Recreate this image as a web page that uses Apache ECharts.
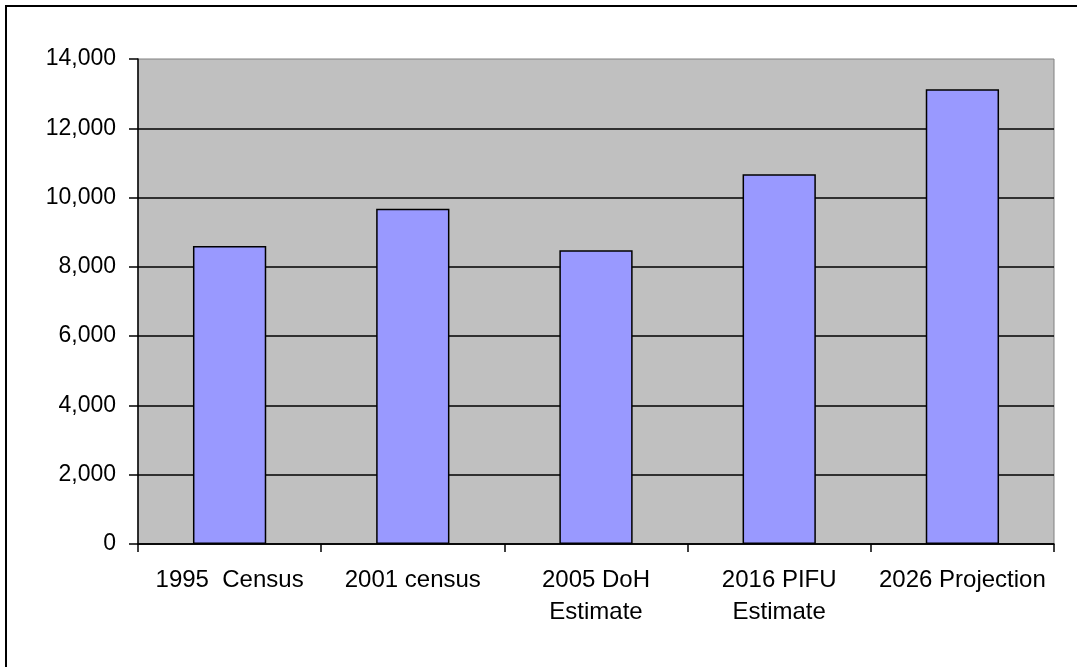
<!DOCTYPE html>
<html>
<head>
<meta charset="utf-8">
<script src="https://cdn.jsdelivr.net/npm/echarts@6/dist/echarts.min.js"></script>
<style>
  html, body { margin: 0; padding: 0; background: #fff; }
  #chart { width: 1077px; height: 667px; }
</style>
</head>
<body>
<div id="chart"></div>
<script>
// Population by source year
const categories = ['1995  Census', '2001 census', '2005 DoH\nEstimate', '2016 PIFU\nEstimate', '2026 Projection'];
const population = [8600, 9680, 8480, 10670, 13130];
const yTicks = [0, 2000, 4000, 6000, 8000, 10000, 12000, 14000];

const FONT = '"Liberation Sans", Arial, sans-serif';
const chart = echarts.init(document.getElementById('chart'), null, { renderer: 'canvas' });

chart.setOption({
  animation: false,
  backgroundColor: '#ffffff',
  graphic: [{
    type: 'rect',
    silent: true,
    shape: { x: 6, y: 6, width: 1200, height: 800 },
    style: { fill: 'none', stroke: '#000000', lineWidth: 2 }
  }],
  grid: {
    left: 138, top: 59, right: 23, bottom: 123,
    show: true,
    backgroundColor: '#C0C0C0',
    borderColor: '#808080',
    borderWidth: 1
  },
  xAxis: {
    type: 'category',
    data: categories,
    boundaryGap: true,
    axisLine: { show: true, lineStyle: { color: '#000000', width: 1.5 } },
    axisTick: { show: true, length: 8, alignWithLabel: false, lineStyle: { color: '#000000', width: 1.5 } },
    axisLabel: {
      color: '#000000', fontFamily: FONT, fontSize: 24, lineHeight: 32,
      margin: 20, interval: 0
    },
    splitLine: { show: false }
  },
  yAxis: {
    type: 'value',
    min: yTicks[0],
    max: yTicks[yTicks.length - 1],
    interval: yTicks[1] - yTicks[0],
    axisLine: { show: true, lineStyle: { color: '#000000', width: 1.5 } },
    axisTick: { show: true, length: 9, lineStyle: { color: '#000000', width: 1.5 } },
    axisLabel: {
      color: '#000000', fontFamily: FONT, fontSize: 23, margin: 22,
      formatter: v => v.toLocaleString('en-US')
    },
    splitLine: { show: true, showMaxLine: false, lineStyle: { color: '#000000', width: 1.5 } }
  },
  series: [{
    type: 'bar',
    data: population,
    barCategoryGap: '60%',
    itemStyle: { color: '#9999FF', borderColor: '#000000', borderWidth: 1.5 }
  }]
});
</script>
</body>
</html>
